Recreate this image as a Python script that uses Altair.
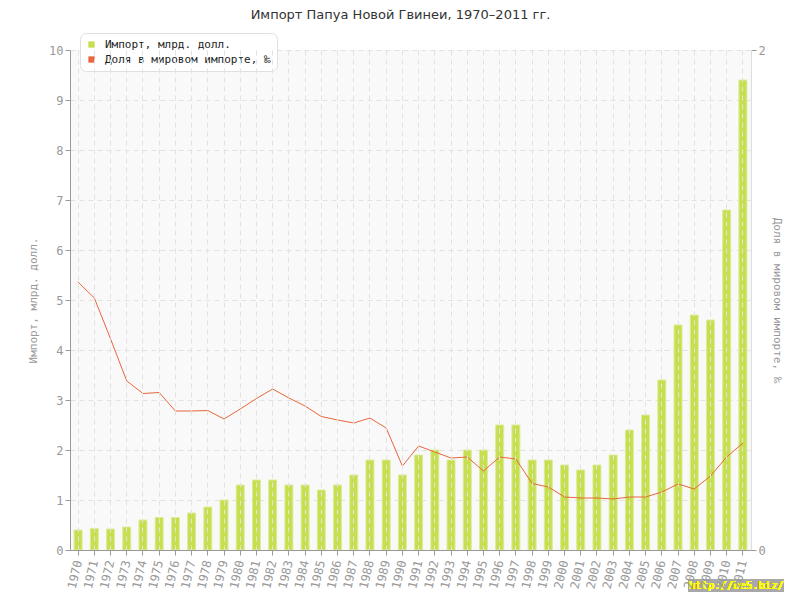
import altair as alt
import pandas as pd

years = [str(y) for y in range(1970, 2012)]
imports = [0.40, 0.43, 0.42, 0.46, 0.60, 0.65, 0.65, 0.74, 0.86, 1.00,
           1.30, 1.40, 1.40, 1.30, 1.30, 1.20, 1.30, 1.50, 1.80, 1.80,
           1.50, 1.90, 2.00, 1.80, 2.00, 2.00, 2.50, 2.50, 1.80, 1.80,
           1.70, 1.60, 1.70, 1.90, 2.40, 2.70, 3.40, 4.50, 4.70, 4.60,
           6.80, 9.40]
share = [1.072, 1.008, 0.845, 0.676, 0.626, 0.630, 0.556, 0.556, 0.558, 0.524,
         0.564, 0.606, 0.644, 0.608, 0.576, 0.534, 0.520, 0.508, 0.528, 0.488,
         0.336, 0.416, 0.392, 0.368, 0.372, 0.316, 0.372, 0.364, 0.266, 0.252,
         0.212, 0.208, 0.208, 0.204, 0.212, 0.212, 0.232, 0.264, 0.244, 0.296,
         0.372, 0.428]
series_names = ["Импорт, млрд. долл.", "Доля в мировом импорте, ‰"]
series_colors = ["#c6df4e", "#e8663c"]

df = pd.DataFrame({"year": years, "imports": imports, "share": share})

FONT = "DejaVu Sans Mono"
GREY = "#999999"

color = alt.Color(
    "series:N",
    scale=alt.Scale(domain=series_names, range=series_colors),
    legend=alt.Legend(
        title=None, orient="none", legendX=10, legendY=-17,
        symbolType="square", symbolSize=40, symbolStrokeWidth=0,
        labelFont=FONT, labelFontSize=11, labelColor="#222222", labelLimit=400,
        fillColor="white", strokeColor="#e0e0e0", cornerRadius=6,
        padding=6, rowPadding=3, labelOffset=8,
    ),
)

x_enc = alt.X(
    "year:O", sort=years, title=None,
    scale=alt.Scale(paddingInner=0.5, paddingOuter=0.25),
    axis=alt.Axis(labelAngle=283, labelFont=FONT, labelFontSize=12,
                  labelColor=GREY, domainColor=GREY, tickColor=GREY,
                  tickSize=5, grid=True, gridDash=[5, 4], gridColor="#e2e2e2",
                  zindex=1, labelPadding=5),
)

bars = alt.Chart(df).transform_calculate(
    series=f"'{series_names[0]}'"
).mark_bar(size=8, stroke="#dcec98", strokeWidth=1).encode(
    x=x_enc,
    y=alt.Y("imports:Q", title="Импорт, млрд. долл.",
            scale=alt.Scale(domain=[0, 10], nice=False),
            axis=alt.Axis(values=list(range(0, 11)), labelFont=FONT,
                          labelFontSize=12, labelColor=GREY,
                          titleFont=FONT, titleFontSize=11,
                          titleColor=GREY, titleFontWeight="normal",
                          domainColor=GREY, tickColor=GREY, tickSize=5,
                          grid=True, gridDash=[5, 4], gridColor="#e2e2e2",
                          titlePadding=10, orient="left")),
    color=color,
)

line = alt.Chart(df).transform_calculate(
    series=f"'{series_names[1]}'"
).mark_line(strokeWidth=1).encode(
    x=alt.X("year:O", sort=years),
    y=alt.Y("share:Q", title="Доля в мировом импорте, ‰",
            scale=alt.Scale(domain=[0, 2], nice=False),
            axis=alt.Axis(values=[0, 1, 2], format="d", labelFont=FONT,
                          labelFontSize=12, labelColor=GREY,
                          titleFont=FONT, titleFontSize=11,
                          titleColor=GREY, titleFontWeight="normal",
                          domainColor="#dddddd", tickColor=GREY, tickSize=5,
                          grid=False, titlePadding=6, orient="right")),
    color=color,
)

wm_bg = alt.Chart(df).mark_rect(color="#a8a8a8").encode(
    x=alt.value(618), x2=alt.value(714), y=alt.value(529), y2=alt.value(542)
)
wm_text = alt.Chart(df).mark_text(
    text="http://be5.biz/", color="#ffff00", font=FONT, fontSize=10.5,
    align="left", baseline="middle"
).encode(x=alt.value(619), y=alt.value(535.5))

chart = alt.layer(bars, line).resolve_scale(y="independent")
chart = alt.layer(chart, wm_bg, wm_text).properties(
    width=681, height=500,
    title=alt.TitleParams("Импорт Папуа Новой Гвинеи, 1970–2011 гг.",
                          font="DejaVu Sans", fontSize=13, fontWeight="normal",
                          color="#333333", offset=11, dx=-10),
    padding={"left": 62, "top": 42, "right": 41, "bottom": 42},
    autosize=alt.AutoSizeParams(type="none"),
).configure_view(fill="#f9f9f9", stroke=None)

chart.save("out.html", embed_options={"renderer": "svg", "actions": False})
